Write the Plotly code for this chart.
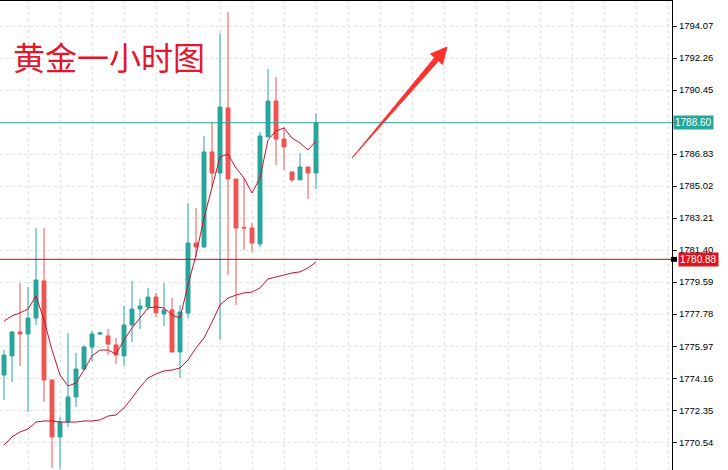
import plotly.graph_objects as go

# ---- data ----
bar_index = list(range(40))
open_px = [1774.34, 1775.42, 1776.77, 1776.66, 1777.56, 1779.66, 1774.06, 1770.84, 1771.68, 1773.10,
           1774.68, 1775.92, 1776.66, 1776.55, 1776.04, 1775.42, 1777.17, 1778.07, 1778.19, 1778.75,
           1777.79, 1778.02, 1775.64, 1777.85, 1781.80, 1781.58, 1786.95, 1785.76, 1789.44, 1785.42,
           1782.68, 1782.65, 1781.75, 1787.80, 1789.83, 1787.68, 1785.82, 1785.37, 1786.10, 1785.76]
high_px = [1775.75, 1776.83, 1779.54, 1779.32, 1782.65, 1782.65, 1774.06, 1771.97, 1776.72, 1775.59,
           1776.04, 1776.83, 1776.77, 1776.94, 1776.43, 1778.24, 1779.66, 1778.64, 1779.26, 1778.98,
           1779.54, 1778.69, 1778.30, 1784.06, 1783.78, 1787.85, 1788.59, 1793.67, 1794.86, 1785.42,
           1785.48, 1782.93, 1788.08, 1791.64, 1791.19, 1788.36, 1785.82, 1786.89, 1786.10, 1789.15]
low_px = [1772.93, 1773.95, 1774.85, 1772.25, 1777.17, 1772.82, 1769.08, 1769.03, 1771.40, 1772.53,
          1774.57, 1775.13, 1776.60, 1775.47, 1774.96, 1774.85, 1776.21, 1776.94, 1778.02, 1777.62,
          1777.11, 1775.64, 1774.17, 1777.56, 1781.01, 1781.52, 1784.97, 1776.32, 1779.99, 1778.30,
          1781.41, 1781.29, 1781.58, 1787.80, 1786.21, 1785.93, 1785.25, 1785.37, 1784.29, 1784.86]
close_px = [1775.47, 1776.77, 1776.66, 1777.56, 1779.71, 1774.06, 1770.84, 1771.68, 1773.10, 1774.68,
            1775.92, 1776.66, 1776.72, 1776.09, 1775.47, 1777.17, 1778.07, 1778.24, 1778.75, 1777.85,
            1778.02, 1775.64, 1777.90, 1781.80, 1781.58, 1786.95, 1785.76, 1789.49, 1785.42, 1782.65,
            1782.65, 1781.80, 1787.85, 1789.83, 1787.68, 1787.23, 1785.37, 1786.10, 1785.76, 1788.60]
ma_line = [1777.39, 1777.68, 1777.85, 1778.07, 1778.81, 1777.45, 1775.75, 1774.34, 1773.72, 1773.89,
           1774.62, 1775.42, 1775.75, 1775.75, 1775.53, 1776.32, 1777.00, 1777.56, 1778.13, 1778.19,
           1778.13, 1777.73, 1777.56, 1779.43, 1781.13, 1783.22, 1784.91, 1786.67, 1786.83, 1786.04,
           1785.48, 1784.63, 1785.48, 1787.63, 1788.14, 1788.30, 1787.74, 1787.46, 1787.06, 1787.57]
lower_band = [1770.38, 1770.84, 1771.12, 1771.29, 1771.68, 1771.74, 1771.74, 1771.68, 1771.68, 1771.68,
              1771.74, 1771.74, 1771.80, 1772.02, 1772.08, 1772.48, 1773.04, 1773.66, 1774.17, 1774.40,
              1774.57, 1774.62, 1774.74, 1775.19, 1775.87, 1776.43, 1777.34, 1778.30, 1778.69, 1778.86,
              1778.98, 1779.03, 1779.26, 1779.77, 1779.88, 1780.00, 1780.11, 1780.17, 1780.39, 1780.73]
tick_values = [1794.07, 1792.26, 1790.45, 1788.60, 1786.83, 1785.02, 1783.21, 1781.40,
               1779.59, 1777.78, 1775.97, 1774.16, 1772.35, 1770.54]
# the 1788.60 tick label sits under the current-price tag, which shows the same text
tick_labels = ["1794.07", "1792.26", "1790.45", "", "1786.83", "1785.02", "1783.21", "1781.40",
               "1779.59", "1777.78", "1775.97", "1774.16", "1772.35", "1770.54"]
current_price = 1788.60
level_price = 1780.88
title_text = "黄金一小时图"

TEAL = "#26a69a"
RED = "#ef5350"
LINE_RED = "#c8102e"
GRID = "#e2e2e2"

fig = go.Figure()
fig.add_trace(go.Candlestick(
    x=bar_index, open=open_px, high=high_px, low=low_px, close=close_px,
    increasing=dict(line=dict(color=TEAL, width=1), fillcolor=TEAL),
    decreasing=dict(line=dict(color=RED, width=1), fillcolor=RED),
    whiskerwidth=0, showlegend=False, hoverinfo="skip"))
fig.add_trace(go.Scatter(x=bar_index, y=ma_line, mode="lines",
                         line=dict(color=LINE_RED, width=1), showlegend=False, hoverinfo="skip"))
fig.add_trace(go.Scatter(x=bar_index, y=lower_band, mode="lines",
                         line=dict(color=LINE_RED, width=1), showlegend=False, hoverinfo="skip"))

# horizontal price lines
fig.add_shape(type="line", xref="paper", yref="y", x0=0, x1=1, y0=current_price, y1=current_price,
              line=dict(color=TEAL, width=1))
fig.add_shape(type="line", xref="paper", yref="y", x0=0, x1=1, y0=level_price, y1=level_price,
              line=dict(color="#d0021b", width=1))
# top frame line
fig.add_shape(type="line", xref="paper", yref="paper", x0=0, x1=1, y0=1, y1=1,
              line=dict(color="black", width=2))

# red arrow (decoration) in paper coordinates of plot area (672 x 470 px)
W, H = 672.0, 470.0
pts = [(352, 158), (438.5, 60.8), (442.5, 64.5), (447, 47), (430.5, 54.0), (434.7, 57.6)]
path = "M " + " L ".join(f"{px / W:.5f} {1 - py / H:.5f}" for px, py in pts) + " Z"
fig.add_shape(type="path", xref="paper", yref="paper", path=path,
              fillcolor="#ff3030", line=dict(color="#ff3030", width=1))

# title text
fig.add_annotation(text=title_text, xref="paper", yref="paper", x=11 / W, y=1 - 56 / H,
                   xanchor="left", yanchor="middle", showarrow=False,
                   font=dict(family="Noto Sans CJK SC", size=32, color="#e8142c"))

# price tags on axis
fig.add_annotation(text=f"{current_price:.2f}", xref="paper", yref="y", x=1.0015, y=current_price,
                   xanchor="left", yanchor="middle", showarrow=False, bgcolor=TEAL, borderpad=1,
                   font=dict(family="Liberation Sans", size=10, color="white"))
fig.add_annotation(text=f"{level_price:.2f}", xref="paper", yref="y", x=1.009, y=level_price,
                   xanchor="left", yanchor="middle", showarrow=False, bgcolor="#e3121c", borderpad=1,
                   font=dict(family="Liberation Sans", size=10, color="white"))
fig.add_shape(type="rect", xref="paper", yref="y", x0=1 - 1 / W, x1=1 + 5 / W,
              y0=level_price - 0.14, y1=level_price + 0.14, fillcolor="black", line=dict(width=0))

fig.update_layout(
    width=728, height=470,
    margin=dict(l=0, r=56, t=0, b=0),
    paper_bgcolor="white", plot_bgcolor="white",
    xaxis=dict(range=[-0.5, 83.5], showticklabels=False, ticks="", zeroline=False,
               showgrid=True, gridcolor=GRID, griddash="dot", gridwidth=1,
               tick0=3, dtick=4, rangeslider=dict(visible=False), fixedrange=True),
    yaxis=dict(side="right", range=[1768.97, 1795.54], tickmode="array",
               tickvals=tick_values, ticktext=tick_labels, ticks="outside", ticklen=4,
               tickcolor="black", showline=True, linecolor="black", linewidth=1,
               showgrid=True, gridcolor=GRID, griddash="dot", gridwidth=1, zeroline=False,
               automargin=False,
               tickfont=dict(family="Liberation Sans", size=9.5, color="black")),
    font=dict(family="Liberation Sans"),
)

fig.write_html("out.html", config={"displayModeBar": False},
               post_script="document.body.style.margin='0';document.body.style.overflow='hidden';")
